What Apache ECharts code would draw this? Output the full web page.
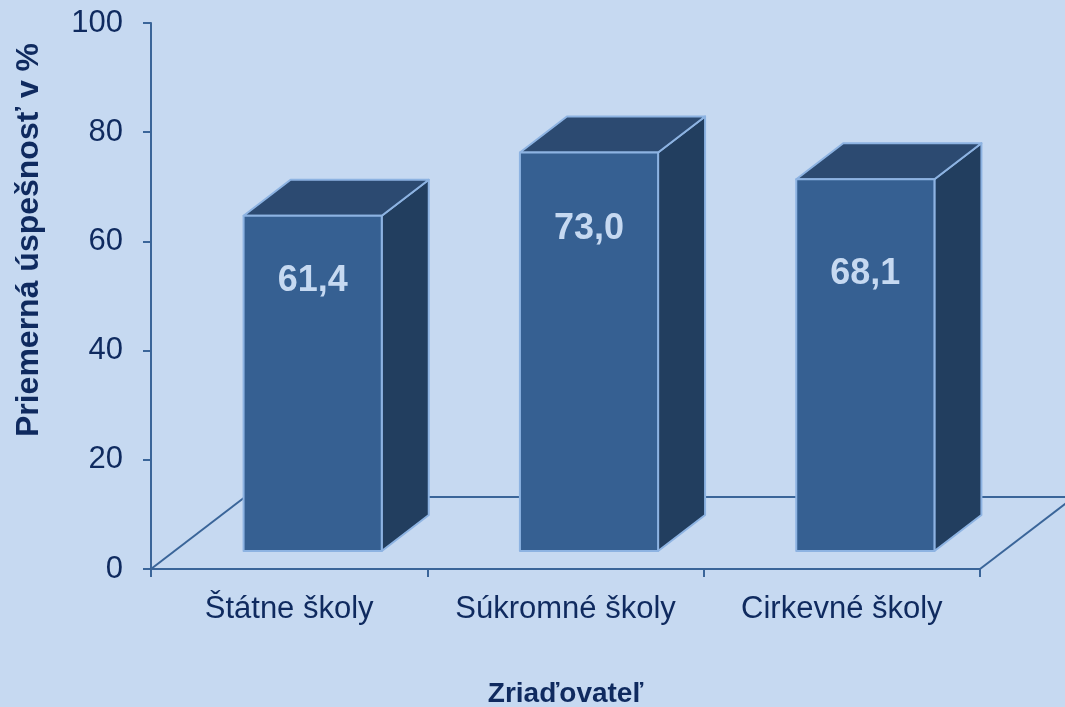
<!DOCTYPE html>
<html>
<head>
    <meta charset="utf-8">
    <title>Priemerná úspešnosť podľa zriaďovateľa</title>
    <script src="https://cdn.jsdelivr.net/npm/echarts@6.0.0/dist/echarts.min.js"></script>
    <style>
        html, body {margin: 0; padding: 0; background: #C6D9F1;}
    </style>
</head>
<body>
<div id="main" style="width: 1065px;height: 707px;"></div>
<script type="text/javascript">
    // data
    var categories = ['Štátne školy', 'Súkromné školy', 'Cirkevné školy'];
    var values = [61.4, 73.0, 68.1];
    var valueLabels = ['61,4', '73,0', '68,1'];
    var yTicks = [0, 20, 40, 60, 80, 100];

    // look
    var font = 'Liberation Sans, Arial, sans-serif';
    var textColor = '#0F2A5F';
    var axisColor = '#3A6599';
    var edgeColor = '#8DB3E2';
    var floorDX = 94, floorDY = 72;   // depth of the floor, px
    var barRatio = 0.5;
    var labelDrop = [65, 77, 95];     // label centre below the bar's top edge, px

    var chart = echarts.init(document.getElementById('main'));

    function renderFloor(params, api) {
        var cs = params.coordSys;
        var x0 = cs.x, x1 = cs.x + cs.width, y0 = cs.y + cs.height;
        var st = {stroke: axisColor, lineWidth: 2, fill: null};
        return {
            type: 'group',
            children: [
                {type: 'line', shape: {x1: x0, y1: y0, x2: x0 + floorDX, y2: y0 - floorDY}, style: st},
                {type: 'line', shape: {x1: x0 + floorDX, y1: y0 - floorDY, x2: x1 + floorDX, y2: y0 - floorDY}, style: st},
                {type: 'line', shape: {x1: x1, y1: y0, x2: x1 + floorDX, y2: y0 - floorDY}, style: st}
            ]
        };
    }

    function renderBar(params, api) {
        var idx = api.value(0);
        var base = api.coord([idx, 0]);
        var top = api.coord([idx, api.value(1)]);
        var w = api.size([1, 0])[0] * barRatio;
        var fx = base[0] - w / 2 + floorDX * 0.25;
        var fy0 = base[1] - floorDY * 0.25;
        var fy1 = top[1] - floorDY * 0.25;
        var dx = floorDX * 0.5, dy = floorDY * 0.5;
        var edge = {stroke: edgeColor, lineWidth: 2, lineJoin: 'round'};
        return {
            type: 'group',
            children: [
                {
                    type: 'polygon',
                    shape: {points: [[fx + w, fy1], [fx + w + dx, fy1 - dy], [fx + w + dx, fy0 - dy], [fx + w, fy0]]},
                    style: Object.assign({fill: '#223E5F'}, edge)
                },
                {
                    type: 'polygon',
                    shape: {points: [[fx, fy1], [fx + dx, fy1 - dy], [fx + w + dx, fy1 - dy], [fx + w, fy1]]},
                    style: Object.assign({fill: '#2C4A71'}, edge)
                },
                {
                    type: 'rect',
                    shape: {x: fx, y: fy1, width: w, height: fy0 - fy1},
                    style: Object.assign({fill: '#366092'}, edge)
                },
                {
                    type: 'text',
                    style: {
                        text: valueLabels[idx],
                        x: fx + w / 2,
                        y: fy1 + labelDrop[idx],
                        align: 'center',
                        verticalAlign: 'middle',
                        fill: '#C6D9F1',
                        font: 'bold 36px ' + font
                    }
                }
            ]
        };
    }

    var option = {
        backgroundColor: '#C6D9F1',
        animation: false,
        textStyle: {fontFamily: font},
        grid: {left: 151, right: 85, top: 23, bottom: 138, containLabel: false, outerBoundsMode: 'none'},
        xAxis: {
            type: 'category',
            data: categories,
            name: 'Zriaďovateľ',
            nameLocation: 'middle',
            nameGap: 111,
            nameTextStyle: {color: textColor, fontSize: 28, fontWeight: 'bold', fontFamily: font},
            axisLine: {lineStyle: {color: axisColor, width: 2}},
            axisTick: {show: true, interval: 0, length: 8, lineStyle: {color: axisColor, width: 2}},
            axisLabel: {color: textColor, fontSize: 31, margin: 25, interval: 0, fontFamily: font},
            splitLine: {show: false}
        },
        yAxis: {
            type: 'value',
            min: yTicks[0],
            max: yTicks[yTicks.length - 1],
            interval: yTicks[1] - yTicks[0],
            axisLine: {show: true, lineStyle: {color: axisColor, width: 2}},
            axisTick: {show: true, length: 8, lineStyle: {color: axisColor, width: 2}},
            axisLabel: {color: textColor, fontSize: 31, margin: 28, fontFamily: font},
            splitLine: {show: false}
        },
        graphic: [{
            type: 'text',
            x: 29,
            y: 240,
            rotation: Math.PI / 2,
            style: {
                text: 'Priemerná úspešnosť v %',
                align: 'center',
                verticalAlign: 'middle',
                fill: textColor,
                font: 'bold 32px ' + font
            }
        }],
        series: [
            {
                type: 'custom',
                renderItem: renderFloor,
                data: [[0, 0]],
                z: 1,
                silent: true
            },
            {
                type: 'custom',
                renderItem: renderBar,
                data: values.map(function (v, i) { return [i, v]; }),
                z: 2
            }
        ]
    };
    chart.setOption(option);
</script>
</body>
</html>
